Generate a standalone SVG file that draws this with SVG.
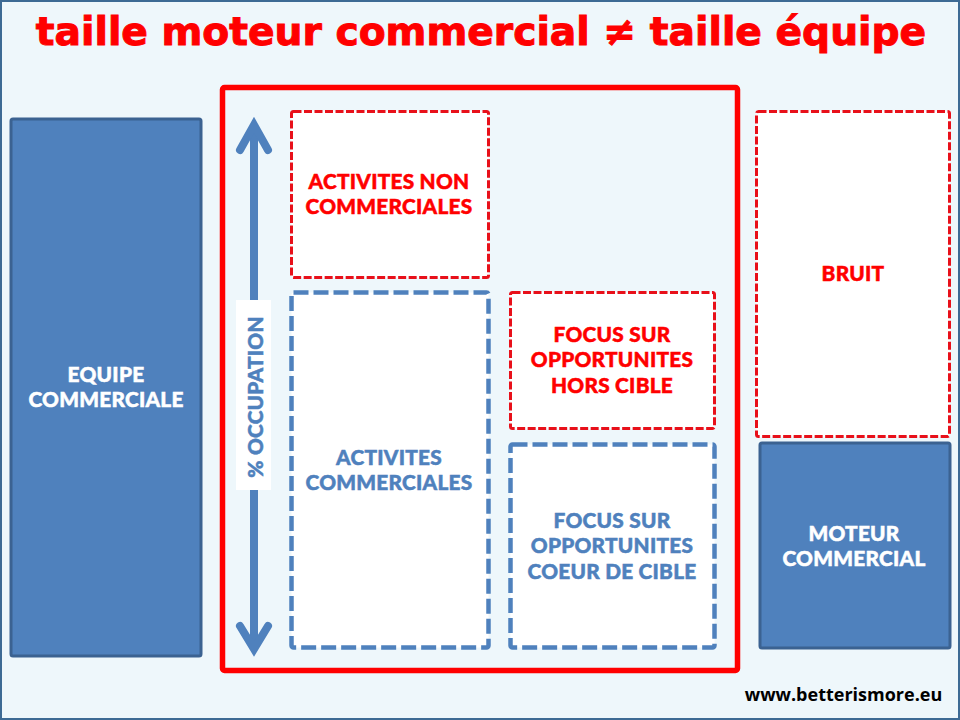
<svg xmlns="http://www.w3.org/2000/svg" width="960" height="720" viewBox="0 0 960 720">
<defs><style>
text{font-family:Lato,"Open Sans",sans-serif;font-weight:900;text-anchor:middle}
.s{fill:#4f81bd;stroke:#3b6291;stroke-width:3}
.rd{fill:#fff;stroke:#e8101a;stroke-width:3;stroke-dasharray:8 2.5}
.bd{fill:#fff;stroke:#4f81bd;stroke-width:4.500;stroke-dasharray:15 5}
.l{font-size:20.800px;letter-spacing:.25px;stroke-width:.5px}
.w{fill:#fff;stroke:#fff}.r{fill:#f00;stroke:#f00}.b{fill:#4f81bd;stroke:#4f81bd}
</style></defs>
<rect x="1" y="1" width="958" height="718" fill="#eef7fb" stroke="#3d6a94" stroke-width="2"/>
<text x="481" y="45" class="r" stroke-width="1" style="font-family:'DejaVu Sans';font-weight:700;font-size:39.200px">taille moteur commercial ≠ taille équipe</text>
<g id="equipe"><rect class="s" x="11" y="119" width="190" height="537" rx="2"/><text class="l w" x="106" y="382">EQUIPE</text><text class="l w" x="106" y="407">COMMERCIALE</text></g>
<g id="frame"><rect x="222.500" y="87.500" width="515" height="583" fill="none" stroke="#f00" stroke-width="5.500" rx="2"/></g>
<g id="connectors"><path d="M254 126V648" fill="none" stroke="#4f81bd" stroke-width="8"/><path d="M240 150L254 125L268 150M240 626L254 649L268 626" fill="none" stroke="#4f81bd" stroke-width="8" stroke-linecap="round"/></g>
<g id="occupation"><rect x="236" y="300" width="35" height="190" fill="#fff"/><text class="l b" transform="translate(263 397) rotate(-90)">% OCCUPATION</text></g>
<g id="nc"><rect class="rd" x="291.500" y="111.500" width="197" height="166" rx="2"/><text class="l r" x="389" y="189">ACTIVITES NON</text><text class="l r" x="389" y="214">COMMERCIALES</text></g>
<g id="ac"><rect class="bd" x="291.500" y="292.500" width="197" height="355" rx="2"/><text class="l b" x="389" y="465">ACTIVITES</text><text class="l b" x="389" y="490">COMMERCIALES</text></g>
<g id="hors"><rect class="rd" x="510.500" y="292.500" width="204" height="136" rx="2"/><text class="l r" x="612" y="342">FOCUS SUR</text><text class="l r" x="612" y="367">OPPORTUNITES</text><text class="l r" x="612" y="393">HORS CIBLE</text></g>
<g id="coeur"><rect class="bd" x="510.500" y="444.500" width="204" height="203" rx="2"/><text class="l b" x="612" y="528">FOCUS SUR</text><text class="l b" x="612" y="553">OPPORTUNITES</text><text class="l b" x="612" y="579">COEUR DE CIBLE</text></g>
<g id="bruit"><rect class="rd" x="756.500" y="111.500" width="193" height="325" rx="2"/><text class="l r" x="853" y="281">BRUIT</text></g>
<g id="moteur"><rect class="s" x="760" y="443" width="190" height="205" rx="2"/><text class="l w" x="854" y="541">MOTEUR</text><text class="l w" x="854" y="566">COMMERCIAL</text></g>
<text x="843.500" y="701" style="font-family:'Open Sans',sans-serif;font-size:18px;fill:#000;font-weight:700">www.betterismore.eu</text>
</svg>
